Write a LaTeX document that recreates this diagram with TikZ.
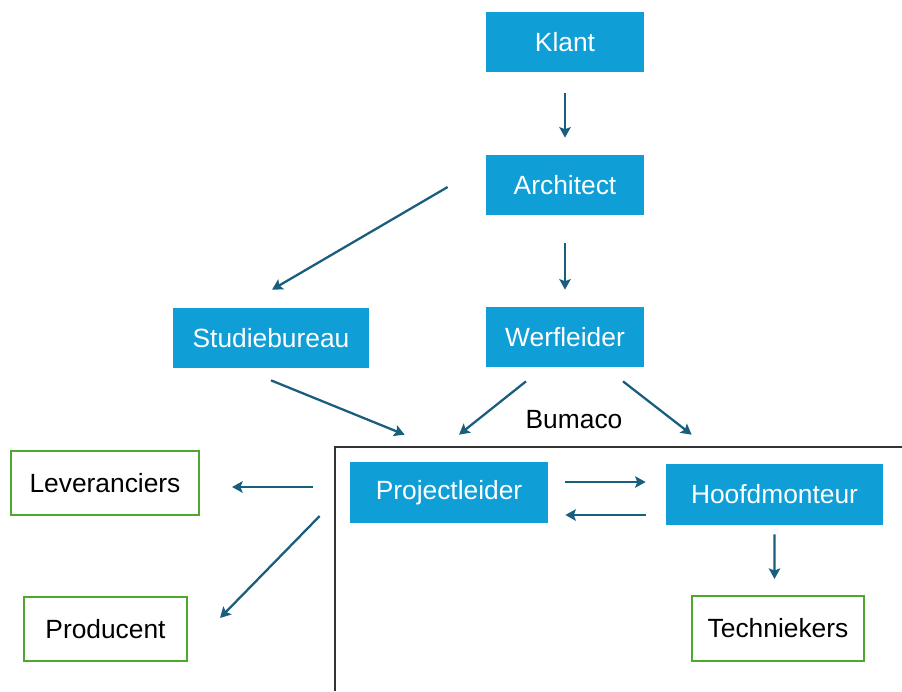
\documentclass[tikz,border=0pt]{standalone}
\usepackage{fontspec}
\setmainfont{Liberation Sans}
\usetikzlibrary{arrows.meta}
\usetikzlibrary{calc}
\definecolor{boxblue}{HTML}{0F9ED5}
\definecolor{flowblue}{HTML}{1A5E7E}
\definecolor{boxgreen}{HTML}{4EA72E}
\tikzset{role/.style = {fill=boxblue, text=white, inner sep=0pt,
                        minimum height=1.2cm, font=\fontsize{15}{18}\selectfont}}
\tikzset{party/.style = {draw=boxgreen, line width=1.2pt, text=black, inner sep=0pt,
                         minimum height=1.28cm, font=\fontsize{15}{18}\selectfont}}
\tikzset{flow/.style = {draw=flowblue, line width=1.3pt,
                        -{Stealth[length=6pt, width=6.5pt, inset=1.2pt]}}}

\begin{document}
\begin{tikzpicture}[x=0.02cm, y=-0.02cm]
    \useasboundingbox (0, 0) rectangle (902, 691);

    % Bumaco
    \draw [line width=0.6pt, black!80] (335, 691) -- (335, 447) -- (902, 447);
    \node (bumaco) at (574, 420) {\fontsize{15}{18}\selectfont Bumaco};

    \node [role, minimum width=3.16cm] (klant) at (565, 42) {Klant};
    \node [role, minimum width=3.16cm] (arch) at (565, 185) {Architect};
    \node [role, minimum width=3.94cm] (stud) at (271, 338) {Studiebureau};
    \node [role, minimum width=3.16cm] (werf) at (565, 337) {Werfleider};
    \node [role, minimum width=3.96cm, minimum height=1.22cm] (proj) at (449, 492.5) {Projectleider};
    \node [role, minimum width=4.34cm, minimum height=1.22cm] (hoofd) at (774.5, 494.5) {Hoofdmonteur};

    \node [party, minimum width=3.76cm] (lev) at (105, 483) {Leveranciers};
    \node [party, minimum width=3.26cm] (prod) at (105.5, 629) {Producent};
    \node [party, minimum width=3.44cm, minimum height=1.3cm] (tech) at (778, 628.5) {Techniekers};

    \draw [flow] ($(klant.south)+(0, 21)$) -- ($(arch.north)+(0, -17)$);
    \draw [flow] ($(arch.south)+(0, 28)$) -- ($(werf.north)+(0, -17)$);
    \draw [flow] ($(arch.west)+(-38, 2)$) -- ($(stud.north)+(1, -18)$);

    \draw [flow] ($(stud.south)+(0, 12)$) -- ($(proj.north west)+(55, -27)$);
    \draw [flow] ($(werf.south)+(-39, 14)$) -- ($(proj.north)+(10, -27)$);
    \draw [flow] ($(werf.south)+(58, 14)$) -- ($(hoofd.north west)+(26, -29)$);

    \draw [flow] ($(proj.east)+(17, -10.5)$) -- ($(hoofd.west)+(-20, -12.5)$);
    \draw [flow] ($(hoofd.west)+(-20, 20.5)$) -- ($(proj.east)+(17, 22.5)$);
    \draw [flow] ($(hoofd.south)+(0, 9)$) -- ($(tech.north)+(-3.5, -16)$);

    \draw [flow] ($(proj.west)+(-37, -5.5)$) -- ($(lev.east)+(32, 4)$);
    \draw [flow] ($(proj.west)+(-30, 23.5)$) -- ($(prod.north east)+(32, 22)$);
\end{tikzpicture}
\end{document}
